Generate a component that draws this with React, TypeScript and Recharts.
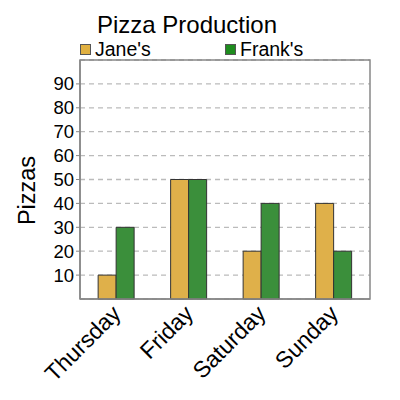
import React from "react";
import { BarChart, Bar, XAxis, YAxis, CartesianGrid, Legend, ReferenceArea } from "recharts";

const days = ["Thursday", "Friday", "Saturday", "Sunday"];
const janes = [10, 50, 20, 40];
const franks = [30, 50, 40, 20];
const yTicks = [10, 20, 30, 40, 50, 60, 70, 80, 90];

const JANE_FILL = "#DFB04A";
const FRANK_FILL = "#3B8F3B";
const JANE_KEY = "#E0B040";
const FRANK_KEY = "#1E8C1E";

const data = days.map((d, i) => ({ day: d, jane: janes[i], frank: franks[i] }));

const FONT = "'Liberation Sans', Arial, sans-serif";
const LEGEND_H = 18;

const XTick = (props: any) => {
  const { x, y, payload } = props;
  return (
    <text
      x={x + 6}
      y={y + 8}
      textAnchor="end"
      fontSize={23}
      fontFamily={FONT}
      fill="#000"
      transform={`rotate(-45, ${x + 6}, ${y + 8})`}
    >
      {payload.value}
    </text>
  );
};

const renderLegend = (props: any) => {
  const { payload } = props;
  const order = ["jane", "frank"];
  const items = [...payload].sort(
    (a: any, b: any) => order.indexOf(a.dataKey) - order.indexOf(b.dataKey)
  );
  return (
    <div style={{ display: "flex", fontFamily: FONT, fontSize: 19.5, height: LEGEND_H }}>
      {items.map((p: any, i: number) => (
        <div key={i} style={{ display: "flex", alignItems: "center", width: 145, height: LEGEND_H }}>
          <span
            style={{
              display: "inline-block",
              width: 9,
              height: 9,
              background: p.dataKey === "jane" ? JANE_KEY : FRANK_KEY,
              border: "1px solid #555",
              marginRight: 4,
            }}
          />
          <span style={{ lineHeight: "18px" }}>{p.value}</span>
        </div>
      ))}
    </div>
  );
};

export default function App() {
  return (
    <div style={{ position: "absolute", left: 0, top: 0, width: 400, height: 400, background: "#fff" }}>
      <div
        style={{
          position: "absolute",
          left: 0,
          width: 374,
          top: 11,
          textAlign: "center",
          fontFamily: FONT,
          fontSize: 24,
          lineHeight: "28px",
        }}
      >
        Pizza Production
      </div>
      <BarChart
        width={400}
        height={400}
        data={data}
        margin={{ top: 60 - LEGEND_H, right: 30, left: 0, bottom: 21 }}
        barCategoryGap="25%"
        barGap={0}
      >
        <CartesianGrid horizontal vertical={false} stroke="#bbb" strokeDasharray="5 4" strokeWidth={1.3} />
        <XAxis
          dataKey="day"
          height={80}
          tick={<XTick />}
          tickLine={false}
          axisLine={{ stroke: "#888", strokeWidth: 1.5 }}
          interval={0}
        />
        <YAxis
          type="number"
          domain={[0, 100]}
          ticks={yTicks}
          interval={0}
          width={80}
          tickSize={4}
          tickLine={{ stroke: "#888" }}
          axisLine={{ stroke: "#888", strokeWidth: 1.5 }}
          tick={{ fontSize: 18.5, fill: "#000", fontFamily: FONT }}
          label={{
            value: "Pizzas",
            angle: -90,
            position: "insideLeft",
            offset: 27,
            dy: 11,
            style: { fontSize: 23.5, fill: "#000", fontFamily: FONT, textAnchor: "middle" },
          }}
        />
        <Legend
          verticalAlign="top"
          align="left"
          content={renderLegend}
          wrapperStyle={{ top: 40, left: 80, width: 300, height: LEGEND_H }}
        />
        <ReferenceArea y1={0} y2={100} fill="none" stroke="#888" strokeWidth={1.5} ifOverflow="visible" />
        <Bar dataKey="jane" name="Jane's" fill={JANE_FILL} stroke="#333" strokeWidth={1} isAnimationActive={false} />
        <Bar dataKey="frank" name="Frank's" fill={FRANK_FILL} stroke="#333" strokeWidth={1} isAnimationActive={false} />
      </BarChart>
    </div>
  );
}
